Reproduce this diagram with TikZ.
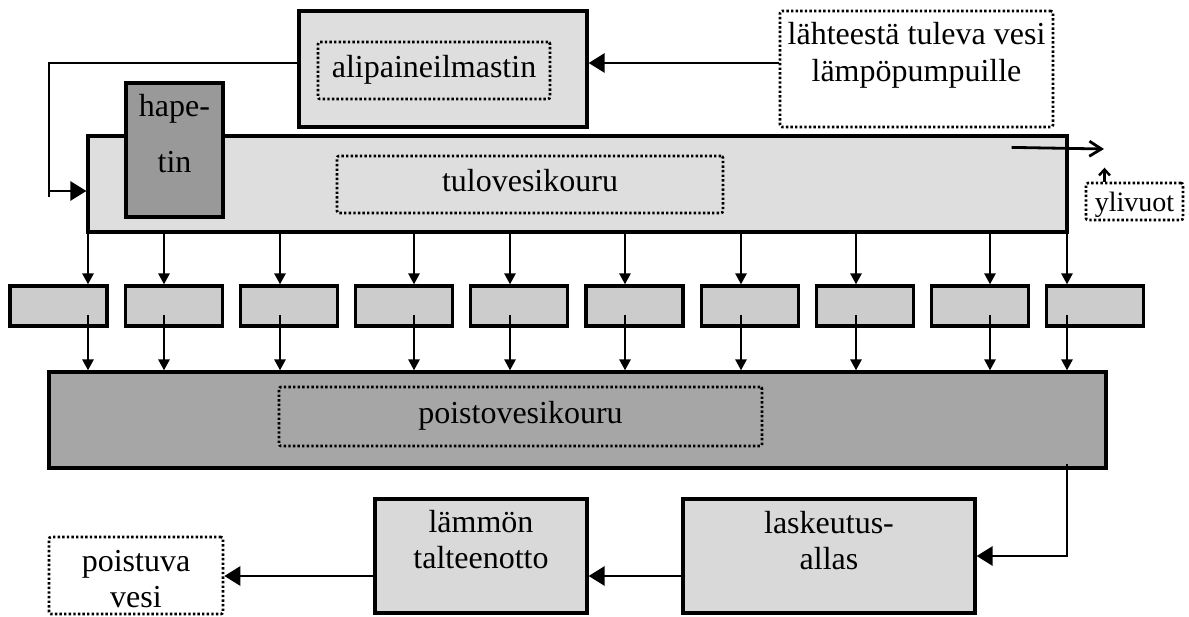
\documentclass[tikz,border=0pt]{standalone}
\usepackage{fontspec}
\setmainfont{Liberation Serif}
\usetikzlibrary{arrows.meta,calc}
\definecolor{kouru}{gray}{0.87}
\definecolor{allas}{gray}{0.85}
\definecolor{altaat}{gray}{0.8}
\definecolor{poistoharmaa}{gray}{0.65}
\definecolor{hapeharmaa}{gray}{0.6}
\tikzset{
 laatikko/.style={draw,line width=3.2pt,inner sep=0pt},
 pisteet/.style={draw,line width=2.6pt,dash pattern=on 2.4pt off 2.2pt,inner sep=0pt,rounded corners=2pt,text height=22pt,text depth=7pt},
 teksti/.style={inner sep=0pt,anchor=base},
 iso/.style={line width=2.8pt,-{Triangle[length=16pt,width=19pt]}},
 pieni/.style={line width=2.6pt,-{Triangle[length=11pt,width=11pt]}},
 avoin/.style={line width=2.8pt,-{Straight Barb[length=12pt,width=15pt]}},
}
\newcommand{\rivit}[1]{\begin{tabular}[t]{@{}c@{}}#1\end{tabular}}
\begin{document}
\begin{tikzpicture}[x=1pt,y=-1pt,font=\fontsize{32}{36.5}\selectfont]
 \useasboundingbox (0,0) rectangle (1189,617);
 % ylarivi
 \node[laatikko,fill=kouru,minimum width=288pt,minimum height=116pt] (ali) at (443,69) {};
 \node[pisteet,minimum width=232pt,minimum height=57pt] (aliT) at (434,70.5) {alipaineilmastin};
 \node[pisteet,minimum width=273pt,minimum height=116pt] (lahde) at (916.5,69) {};
 \node[teksti] (lahdeT) at (916.5,45) {\rivit{lähteestä tuleva vesi\\lämpöpumpuille}};
 % kourut
 \node[laatikko,fill=kouru,minimum width=979pt,minimum height=96pt] (tulo) at (577.5,184) {};
 \node[laatikko,fill=hapeharmaa,minimum width=97pt,minimum height=134pt] (hape) at (174.5,150) {};
 \node[teksti] (hapeT) at (174.5,117) {\rivit{hape-\\[19.5pt]tin}};
 \node[pisteet,minimum width=386pt,minimum height=57pt] (tuloT) at (530,184.5) {tulovesikouru};
 \foreach \i in {1,...,10}
 \node[laatikko,fill=altaat,minimum width=97pt,minimum height=40pt] (k\i) at ({58.5+115.2*(\i-1)},306) {};
 \node[laatikko,fill=poistoharmaa,minimum width=1057pt,minimum height=96pt] (poisto) at (577.5,420) {};
 \node[pisteet,minimum width=483pt,minimum height=59pt] (poistoT) at (520.5,416.5) {poistovesikouru};
 % alarivi
 \node[laatikko,fill=allas,minimum width=292pt,minimum height=114pt] (lask) at (829,556) {};
 \node[teksti] (laskT) at (829,533) {\rivit{laskeutus-\\allas}};
 \node[laatikko,fill=allas,minimum width=212pt,minimum height=114pt] (lammon) at (481,556) {};
 \node[teksti] (lammonT) at (481,532) {\rivit{lämmön\\talteenotto}};
 \node[pisteet,minimum width=174pt,minimum height=77pt] (poistuva) at (136,575.5) {};
 \node[teksti] (poistuvaT) at (136,571) {\rivit{poistuva\\vesi}};
 \node[pisteet,font=\fontsize{28}{32}\selectfont,text height=23pt,text depth=2pt,minimum width=97pt,minimum height=37pt] (yli) at (1134.5,201.5) {ylivuot};
 % virtaukset
 \coordinate (vasen) at (49,191);
 \coordinate (vasenala) at (49,197);
 \draw[line width=2.8pt] ([yshift=6pt]ali.west) -| (vasenala);
 \draw[iso] (vasen) -- (vasen -| tulo.west);
 \draw[iso] ([yshift=6pt]lahde.west) -- ([yshift=6pt]ali.east);
 \foreach \i/\x in {1/88,2/164,3/280,4/414,5/510,6/625,7/741,8/856,9/990,10/1067}{
 \coordinate (x\i) at (\x,0);
 \draw[pieni] (tulo.south -| x\i) -- (k\i.north -| x\i);
 \draw[pieni] ($(k\i.center -| x\i)+(0,9)$) -- (poisto.north -| x\i);
 }
 \draw[iso] ($(poisto.south -| x10)+(0,-6)$) |- (lask.east);
 \draw[iso] ([yshift=-20pt]lask.west) -- ([yshift=-20pt]lammon.east);
 \draw[iso] ([yshift=-20pt]lammon.west) -- ([yshift=-20pt]lammon.west -| poistuva.east);
 \coordinate (ylipaa) at (1104,149);
 \draw[avoin] ($(tulo.north east)+(-57,13)$) -- (ylipaa);
 \draw[line width=2.4pt,-{Straight Barb[length=6pt,width=11pt]}] ([xshift=-30pt]yli.north) -- ++(0,-14);
\end{tikzpicture}
\end{document}
